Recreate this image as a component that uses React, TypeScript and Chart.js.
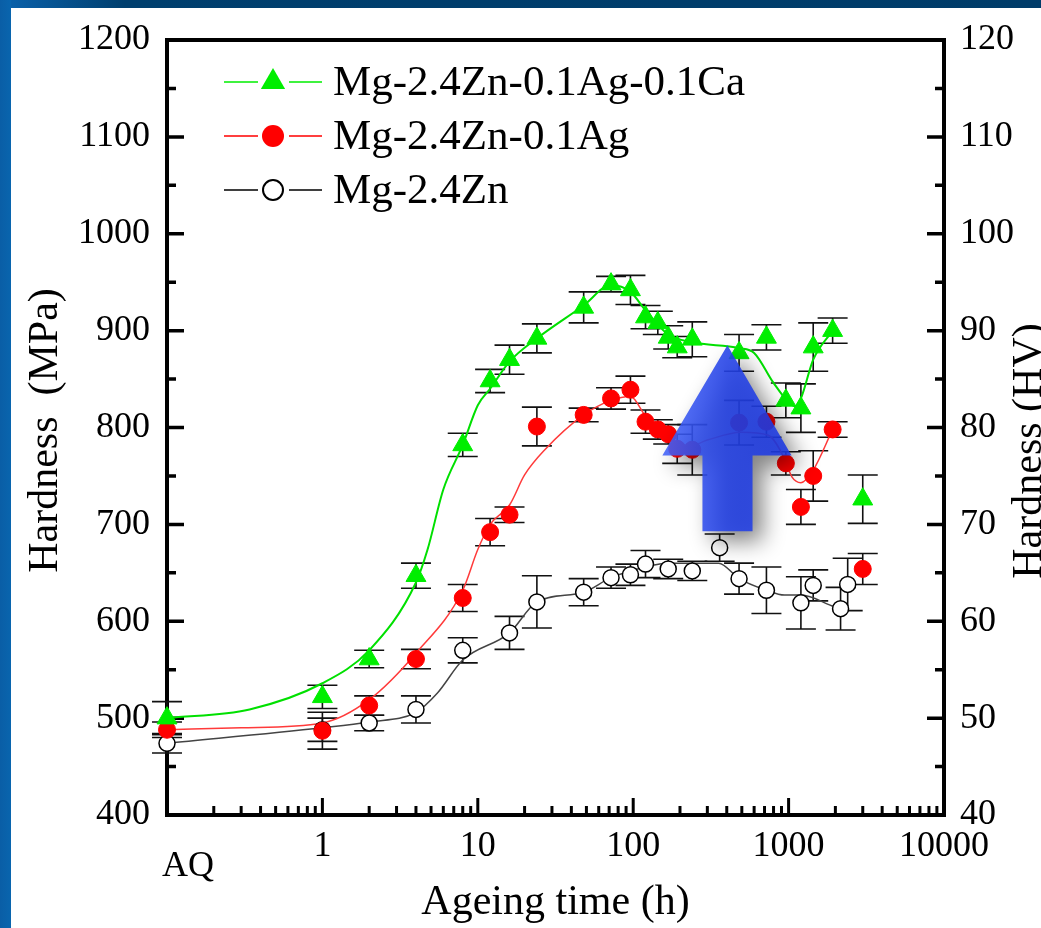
import React, { useEffect, useRef } from 'react';
import { Chart, registerables } from 'chart.js';

Chart.register(...registerables);

// ---------- series names ----------
const SERIES_CA = 'Mg-2.4Zn-0.1Ag-0.1Ca';
const SERIES_AG = 'Mg-2.4Zn-0.1Ag';
const SERIES_ZN = 'Mg-2.4Zn';

// ---------- measured data (ageing time in h; AQ plotted at 0.1 h) ----------
const agedTimes = [0.1, 1, 2, 4, 8, 12, 16, 24, 48, 72, 96, 120, 144, 168, 192, 240, 480, 720, 960, 1200, 1440, 1920, 3000];
const hardnessCa = [500, 522, 561, 647, 782, 848, 870, 892, 924, 948, 942, 914, 908, 893, 883, 891, 877, 893, 828, 820, 883, 900, 726];
const errorCa = [17, 12, 9, 13, 12, 12, 15, 15, 16, 8, 15, 12, 12, 12, 11, 18, 19, 13, 18, 25, 25, 13, 25];
const hardnessAg = [488, 487, 513, 561, 624, 692, 710, 801, 813, 830, 839, 806, 798, 793, 778, 777, 805, 806, 763, 718, 750, 798, 654];
const errorAg = [8, 19, 10, 10, 14, 14, 8, 20, 7, 11, 14, 12, 10, 10, 15, 26, 23, 16, 12, 18, 26, 8, 16];

const timesZn = [0.1, 1, 2, 4, 8, 16, 24, 48, 72, 96, 120, 168, 240, 360, 480, 720, 1200, 1440, 2160, 2400];
const hardnessZn = [474, 488, 495, 509, 570, 588, 620, 630, 645, 648, 659, 654, 652, 676, 644, 632, 619, 637, 613, 638];
const errorZn = [10, 12, 8, 14, 13, 17, 27, 14, 11, 11, 14, 10, 10, 14, 16, 24, 27, 16, 22, 27];

// ---------- fitted trend curves ----------
const fitTimesCa = [0.1, 0.34, 1, 2, 4, 4.75, 6, 8, 10, 12, 16, 24, 48, 72, 96, 120, 168, 240, 480, 600, 800, 1000, 1100, 1200, 1440, 1920];
const fitCa = [500, 509, 536, 570, 640, 674, 736, 782, 823, 840, 868, 892, 926, 947, 940, 921, 896, 888, 882, 877, 846, 826, 822, 830, 870, 900];
const fitTimesAg = [0.1, 0.3, 1, 2, 4, 8, 10, 12, 16, 20, 27, 48, 72, 96, 120, 168, 225, 300, 496, 740, 940, 1050, 1200, 1440, 1920];
const fitAg = [488, 490, 495, 519, 567, 632, 674, 700, 720, 751, 777, 813, 828, 832, 812, 790, 780, 787, 795, 792, 768, 749, 743, 756, 798];
const fitTimesZn = [0.1, 1, 2, 4, 5.5, 8, 16, 24, 48, 72, 120, 168, 355, 480, 720, 940, 1200, 1970, 2160];
const fitZn = [474, 490, 496, 506, 526, 560, 588, 620, 630, 645, 656, 660, 660, 644, 632, 627, 627, 615, 613];

// ---------- axis ticks ----------
const xTickValues = [0.1, 1, 10, 100, 1000, 10000];
const xTickLabels = ['AQ', '1', '10', '100', '1000', '10000'];
const mpaRange = [400, 1200];
const hvRange = [40, 120];

// ---------- annotation arrow (data units: h, MPa) ----------
const ARROW = { tipX: 404, tipY: 885, headL: 154, headR: 1045, headY: 771, shaftL: 279, shaftR: 586, bottomY: 693 };

const FONT = "'Liberation Serif', 'Times New Roman', 'DejaVu Serif', serif";

const toXY = (xs: number[], ys: number[]) => xs.map((x, i) => ({ x, y: ys[i] }));

const decorPlugin = {
  id: 'decor',
  beforeDraw(chart: any) {
    const { ctx, width, height } = chart;
    ctx.save();
    ctx.fillStyle = '#ffffff';
    ctx.fillRect(0, 0, width, height);
    const g = ctx.createLinearGradient(0, 0, width, 0);
    g.addColorStop(0, '#0b63ae');
    g.addColorStop(0.12, '#003f6e');
    g.addColorStop(1, '#003c69');
    ctx.fillStyle = g;
    ctx.fillRect(0, 0, width, 8);
    const g2 = ctx.createLinearGradient(0, 0, 11, 0);
    g2.addColorStop(0, '#0a5ea6');
    g2.addColorStop(1, '#0965ae');
    ctx.fillStyle = g2;
    ctx.fillRect(0, 0, 11, height);
    ctx.restore();
  },
  beforeDatasetsDraw(chart: any) {
    const { ctx, chartArea } = chart;
    const { left, right, top, bottom } = chartArea;
    const xs = chart.scales.x;
    const ys = chart.scales.y;
    ctx.save();
    ctx.strokeStyle = '#000';
    ctx.lineWidth = 4;
    ctx.strokeRect(left, top, right - left, bottom - top);
    // y ticks (inward, both sides)
    ctx.lineWidth = 3.5;
    for (let v = mpaRange[0]; v <= mpaRange[1]; v += 50) {
      const py = ys.getPixelForValue(v);
      const len = v % 100 === 0 ? 17 : 9;
      ctx.beginPath();
      ctx.moveTo(left, py); ctx.lineTo(left + len, py);
      ctx.moveTo(right, py); ctx.lineTo(right - len, py);
      ctx.stroke();
    }
    // x ticks (inward, log)
    ctx.lineWidth = 3;
    for (let d = 0.1; d < 10000; d *= 10) {
      for (let m = 1; m <= 9; m++) {
        const v = d * m;
        const px = xs.getPixelForValue(v);
        const len = m === 1 ? 17 : 9;
        ctx.beginPath();
        ctx.moveTo(px, bottom); ctx.lineTo(px, bottom - len);
        ctx.stroke();
      }
    }
    const pxEnd = xs.getPixelForValue(10000);
    ctx.beginPath(); ctx.moveTo(pxEnd, bottom); ctx.lineTo(pxEnd, bottom - 17); ctx.stroke();

    // error bars
    ctx.lineWidth = 1.6;
    ctx.strokeStyle = '#111';
    chart.data.datasets.forEach((ds: any, i: number) => {
      if (!ds.errors) return;
      const meta = chart.getDatasetMeta(i);
      meta.data.forEach((pt: any, j: number) => {
        const raw = ds.data[j];
        const e = ds.errors[j];
        const y1 = ys.getPixelForValue(raw.y + e);
        const y2 = ys.getPixelForValue(raw.y - e);
        const x = pt.x;
        ctx.beginPath();
        ctx.moveTo(x, y1); ctx.lineTo(x, y2);
        ctx.moveTo(x - 15, y1); ctx.lineTo(x + 15, y1);
        ctx.moveTo(x - 15, y2); ctx.lineTo(x + 15, y2);
        ctx.stroke();
      });
    });
    ctx.restore();
  },
  afterDatasetsDraw(chart: any) {
    const { ctx } = chart;
    const xs = chart.scales.x;
    const ys = chart.scales.y;
    const X = (v: number) => xs.getPixelForValue(v);
    const Y = (v: number) => ys.getPixelForValue(v);
    ctx.save();
    ctx.beginPath();
    ctx.moveTo(X(ARROW.tipX), Y(ARROW.tipY));
    ctx.lineTo(X(ARROW.headR), Y(ARROW.headY));
    ctx.lineTo(X(ARROW.shaftR), Y(ARROW.headY));
    ctx.lineTo(X(ARROW.shaftR), Y(ARROW.bottomY));
    ctx.lineTo(X(ARROW.shaftL), Y(ARROW.bottomY));
    ctx.lineTo(X(ARROW.shaftL), Y(ARROW.headY));
    ctx.lineTo(X(ARROW.headL), Y(ARROW.headY));
    ctx.closePath();
    const g = ctx.createLinearGradient(X(ARROW.headL), 0, X(ARROW.headR), 0);
    g.addColorStop(0, 'rgba(66,98,248,0.88)');
    g.addColorStop(0.5, 'rgba(36,66,232,0.88)');
    g.addColorStop(1, 'rgba(28,56,226,0.88)');
    ctx.shadowColor = 'rgba(0,0,0,0.55)';
    ctx.shadowBlur = 22;
    ctx.shadowOffsetX = 10;
    ctx.shadowOffsetY = 10;
    ctx.fillStyle = g;
    ctx.fill();
    ctx.restore();
  },
  afterDraw(chart: any) {
    const { ctx, chartArea } = chart;
    const { left, right, top, bottom } = chartArea;
    const xs = chart.scales.x;
    ctx.save();
    ctx.fillStyle = '#000';
    // AQ label
    ctx.font = `36px ${FONT}`;
    ctx.textAlign = 'center';
    ctx.textBaseline = 'alphabetic';
    ctx.fillText(xTickLabels[0], xs.getPixelForValue(xTickValues[0]) + 21, 876);
    // axis titles
    ctx.font = `42px ${FONT}`;
    ctx.fillText('Ageing time (h)', (left + right) / 2, 914);
    ctx.save();
    ctx.translate(57, (top + bottom) / 2 + 3);
    ctx.rotate(-Math.PI / 2);
    ctx.fillText('Hardness  (MPa)', 0, 0);
    ctx.restore();
    ctx.save();
    ctx.translate(1041, 451);
    ctx.rotate(-Math.PI / 2);
    ctx.fillText('Hardness (HV)', 0, 0);
    ctx.restore();
    // legend
    const items = [
      { text: SERIES_CA, color: '#00ee00', style: 'triangle', y: 82 },
      { text: SERIES_AG, color: '#ff0000', style: 'circle', y: 136 },
      { text: SERIES_ZN, color: '#000000', style: 'open', y: 190 },
    ];
    items.forEach((it) => {
      ctx.strokeStyle = it.style === 'open' ? '#000' : it.color;
      ctx.lineWidth = 1.3;
      ctx.beginPath();
      ctx.moveTo(224, it.y); ctx.lineTo(258, it.y);
      ctx.moveTo(289, it.y); ctx.lineTo(322, it.y);
      ctx.stroke();
      const cx = 273;
      ctx.beginPath();
      if (it.style === 'triangle') {
        const r = 14;
        ctx.moveTo(cx, it.y - r);
        ctx.lineTo(cx + r * 0.866, it.y + r / 2);
        ctx.lineTo(cx - r * 0.866, it.y + r / 2);
        ctx.closePath();
        ctx.fillStyle = it.color; ctx.fill();
      } else if (it.style === 'circle') {
        ctx.arc(cx, it.y, 11, 0, Math.PI * 2);
        ctx.fillStyle = it.color; ctx.fill();
      } else {
        ctx.arc(cx, it.y, 10, 0, Math.PI * 2);
        ctx.fillStyle = '#fff'; ctx.fill();
        ctx.lineWidth = 2; ctx.strokeStyle = '#000'; ctx.stroke();
      }
      ctx.fillStyle = '#000';
      ctx.font = `43px ${FONT}`;
      ctx.textAlign = 'left';
      ctx.textBaseline = 'alphabetic';
      ctx.fillText(it.text, 333, it.y + 13);
    });
    ctx.restore();
  },
};

export default function App() {
  const ref = useRef<HTMLCanvasElement | null>(null);
  useEffect(() => {
    const canvas = ref.current;
    if (!canvas) return;
    const zeroPad = (scale: any) => {
      scale.paddingTop = 0; scale.paddingBottom = 0; scale.paddingLeft = 0; scale.paddingRight = 0;
    };
    const chart = new Chart(canvas, {
      type: 'line',
      data: {
        datasets: [
          {
            label: SERIES_CA, data: toXY(agedTimes, hardnessCa), errors: errorCa,
            showLine: false, pointStyle: 'triangle', pointRadius: 11.5, pointBorderWidth: 1,
            backgroundColor: '#00ee00', borderColor: '#00ee00', order: 0, clip: false,
          } as any,
          {
            label: SERIES_AG, data: toXY(agedTimes, hardnessAg), errors: errorAg,
            showLine: false, pointStyle: 'circle', pointRadius: 8.5, pointBorderWidth: 1,
            backgroundColor: '#ff0000', borderColor: '#ff0000', order: 1, clip: false,
          } as any,
          {
            label: SERIES_ZN, data: toXY(timesZn, hardnessZn), errors: errorZn,
            showLine: false, pointStyle: 'circle', pointRadius: 8, pointBorderWidth: 1.5,
            backgroundColor: '#ffffff', borderColor: '#000000', order: 2, clip: false,
          } as any,
          {
            label: SERIES_CA + ' fit', data: toXY(fitTimesCa, fitCa), pointRadius: 0,
            borderColor: '#00e000', borderWidth: 2, cubicInterpolationMode: 'monotone', order: 3, clip: false,
          } as any,
          {
            label: SERIES_AG + ' fit', data: toXY(fitTimesAg, fitAg), pointRadius: 0,
            borderColor: '#ff3a3a', borderWidth: 1.5, cubicInterpolationMode: 'monotone', order: 4, clip: false,
          } as any,
          {
            label: SERIES_ZN + ' fit', data: toXY(fitTimesZn, fitZn), pointRadius: 0,
            borderColor: '#444444', borderWidth: 1.5, cubicInterpolationMode: 'monotone', order: 5, clip: false,
          } as any,
        ],
      },
      options: {
        responsive: false,
        animation: false,
        devicePixelRatio: 1,
        events: [],
        layout: { padding: { top: 40, left: 0, right: 0, bottom: 0 } },
        plugins: { legend: { display: false }, tooltip: { enabled: false } },
        scales: {
          x: {
            type: 'logarithmic', position: 'bottom', min: 0.1, max: 10000,
            grid: { display: false, drawTicks: false }, border: { display: false },
            afterBuildTicks: (s: any) => { s.ticks = xTickValues.map((v) => ({ value: v, major: true })); },
            afterFit: (s: any) => { s.height = 113; zeroPad(s); },
            ticks: {
              autoSkip: false, maxRotation: 0, padding: 10, color: '#000',
              font: { family: FONT, size: 36 },
              callback: (v: any) => { const i = xTickValues.indexOf(Number(v)); return i > 0 ? xTickLabels[i] : ''; },
            },
          },
          y: {
            type: 'linear', position: 'left', min: mpaRange[0], max: mpaRange[1],
            grid: { display: false, drawTicks: false }, border: { display: false },
            afterFit: (s: any) => { s.width = 167; zeroPad(s); },
            ticks: {
              stepSize: 100, padding: 17, color: '#000', font: { family: FONT, size: 36 },
              callback: (v: any) => String(v),
            },
          },
          y2: {
            type: 'linear', position: 'right', min: hvRange[0], max: hvRange[1],
            grid: { display: false, drawTicks: false }, border: { display: false },
            afterFit: (s: any) => { s.width = 97; zeroPad(s); },
            ticks: {
              stepSize: 10, padding: 16, color: '#000', font: { family: FONT, size: 36 },
              callback: (v: any) => String(v),
            },
          },
        },
      } as any,
      plugins: [decorPlugin],
    });
    return () => chart.destroy();
  }, []);
  return (
    <div style={{ position: 'fixed', left: 0, top: 0, width: 1041, height: 928 }}>
      <canvas ref={ref} width={1041} height={928} style={{ display: 'block' }} />
    </div>
  );
}
